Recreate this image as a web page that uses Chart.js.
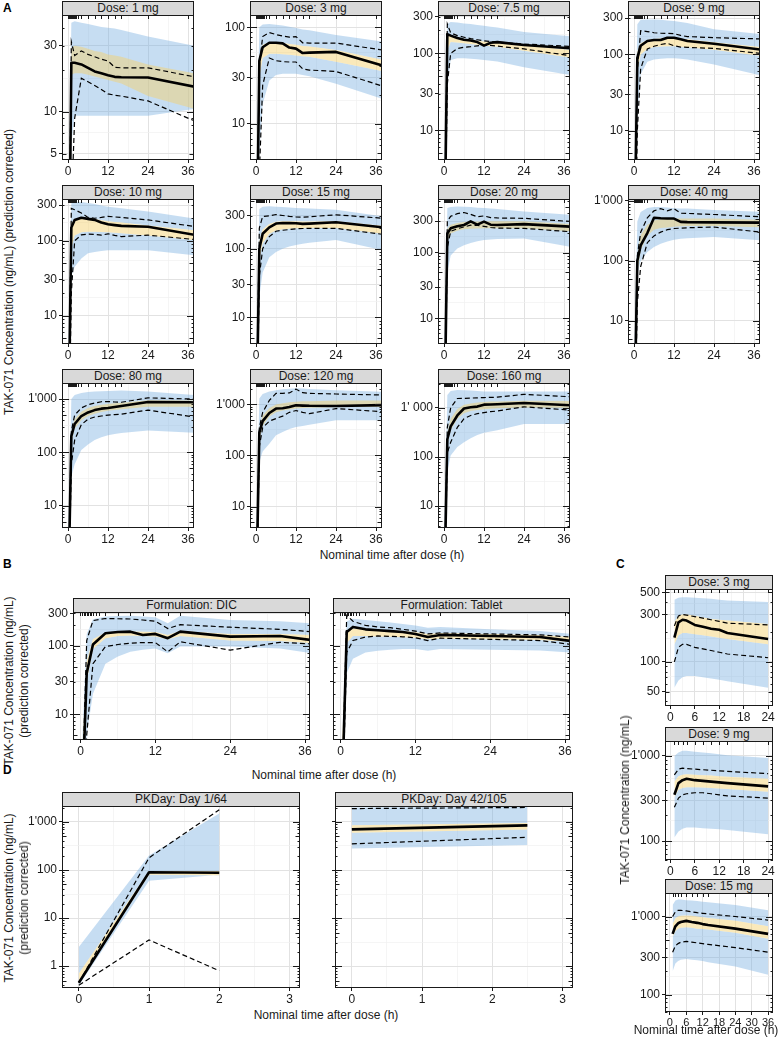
<!DOCTYPE html>
<html>
<head>
<meta charset="utf-8">
<script src="https://cdn.jsdelivr.net/npm/chart.js@4.4.1/dist/chart.umd.min.js"></script>
<style>
  body { margin: 0; background: #fff; font-family: 'Liberation Sans', Arial, sans-serif; }
  #page { position: relative; width: 780px; height: 1037px; overflow: hidden; }
  .strip { position: absolute; background: #d9d9d9; border: 1px solid #1a1a1a; box-sizing: border-box;
           font-size: 12px; text-align: center; color: #1a1a1a; white-space: nowrap; }
  .box { position: absolute; }
  .txt { position: absolute; font-size: 12px; color: #1a1a1a; white-space: nowrap; }
  .tag { position: absolute; font-size: 12px; font-weight: bold; color: #000; }
</style>
</head>
<body>
<div id="page"></div>
<script>
// VPC por dosis / formulación / día. Valores leídos a ojo de la figura.

// ---------- A: por dosis ----------
const timesA = [0, 1, 2, 4, 6, 8, 10, 12, 14, 16, 24, 38];
const doseTitles = ['Dose: 1 mg', 'Dose: 3 mg', 'Dose: 7.5 mg', 'Dose: 9 mg', 'Dose: 10 mg', 'Dose: 15 mg',
  'Dose: 20 mg', 'Dose: 40 mg', 'Dose: 80 mg', 'Dose: 120 mg', 'Dose: 160 mg'];
const doseYRange = [[4.5, 50], [4.2, 134], [4.1, 315], [4.1, 330], [4.2, 361], [4.1, 530], [4.1, 650],
  [4.1, 1070], [3.8, 2000], [3.8, 2630], [3.6, 3200]];
const doseYTicks = [[5, 10, 30], [10, 30, 100], [10, 30, 100, 300], [10, 30, 100, 300], [10, 30, 100, 300],
  [10, 30, 100, 300], [10, 30, 100, 300], [10, 100, 1000], [10, 100, 1000], [10, 100, 1000], [10, 100, 1000]];
const doseThousandSep = ["'", "'", "'", "'", "'", "'", "'", "'", "'", "'", "' "];
const doseOverlap = [true, false, false, false, false, false, true, true, true, true, true];

const doseMedian = [
  [0.1, 22.6, 22.6, 22, 20.8, 19.6, 19, 18.4, 17.9, 17.8, 17.7, 15.2],
  [0.1, 45, 62, 69, 69, 68, 61.6, 60, 54, 54.5, 55.5, 40],
  [0.1, 178, 170, 158, 150, 147, 140, 126, 137, 140, 128, 116],
  [0.1, 90, 130, 150, 155, 155, 166, 166, 158, 150, 138, 116],
  [0.1, 150, 190, 203, 196, 190, 175, 166, 162, 158, 154, 120],
  [0.1, 100, 165, 205, 233, 237, 236, 235, 230, 232, 243, 205],
  [0.1, 195, 233, 250, 262, 298, 265, 295, 265, 262, 270, 247],
  [0.1, 100, 180, 290, 520, 510, 505, 505, 445, 440, 436, 432],
  [0.1, 200, 340, 480, 560, 620, 660, 680, 710, 740, 880, 870],
  [0.1, 280, 470, 680, 830, 845, 890, 965, 950, 940, 935, 970],
  [0.1, 230, 420, 700, 970, 1030, 1060, 1160, 1170, 1180, 1250, 1130],
];
const doseP95 = [
  [0.1, 32, 25.5, 27.5, 26, 25, 24, 23.3, 21, 20.8, 20.8, 17.9],
  [0.1, 40, 80, 88, 84, 81, 79, 80, 69, 68.5, 68.5, 58],
  [0.1, 240, 185, 170, 162, 155, 150, 145, 142, 140, 132, 123],
  [0.1, 60, 205, 200, 193, 190, 189, 188, 178, 172, 166, 160],
  [0.1, 270, 260, 235, 205, 200, 205, 212, 208, 205, 190, 155],
  [0.1, 200, 295, 302, 315, 305, 296, 290, 288, 292, 312, 278],
  [0.1, 300, 355, 390, 405, 380, 350, 360, 340, 335, 331, 296],
  [0.1, 120, 300, 520, 680, 740, 680, 740, 620, 615, 590, 540],
  [0.1, 250, 500, 680, 780, 840, 890, 900, 880, 870, 1050, 1000],
  [0.1, 350, 700, 1200, 1650, 1650, 1680, 2000, 1700, 1650, 1600, 1530],
  [0.1, 400, 1000, 1550, 1560, 1580, 1600, 1620, 1630, 1650, 1880, 1680],
];
const doseP5 = [
  [0.05, 2, 9, 17.5, 16.5, 15.5, 14.5, 13.5, 13.2, 13, 12, 8.6],
  [0.05, 3, 25, 48, 45, 44, 43.6, 43.6, 37, 36, 34.8, 24.5],
  [0.1, 40, 100, 115, 120, 122, 125, 128, 127, 124, 114, 93],
  [0.05, 10, 65, 118, 128, 135, 140, 130, 125, 124, 120, 103],
  [0.05, 20, 100, 120, 123, 122, 119, 124, 118, 114, 119, 104],
  [0.05, 40, 100, 150, 180, 186, 190, 195, 197, 198, 198, 162],
  [0.05, 120, 210, 230, 245, 260, 258, 250, 240, 235, 233, 207],
  [0.05, 20, 80, 200, 260, 300, 330, 345, 350, 355, 365, 300],
  [0.05, 60, 170, 330, 420, 460, 480, 500, 510, 520, 620, 460],
  [0.05, 150, 350, 470, 530, 590, 700, 760, 700, 660, 830, 720],
  [0.05, 120, 200, 400, 600, 700, 760, 800, 840, 860, 1050, 900],
];
const doseBandLo = [
  [0.1, 6, 9.4, 9.4, 9.4, 9.4, 9.4, 9.4, 9.4, 9.4, 9.4, 10.5],
  [0.1, 5, 16, 28, 32, 33, 33, 33, 32, 31, 26, 18],
  [0.1, 40, 82, 86, 86, 85, 84, 82, 80, 78, 66, 52],
  [0.1, 15, 55, 80, 86, 88, 89, 89, 88, 86, 74, 53],
  [0.1, 34, 45, 58, 68, 71, 73, 75, 75, 75, 75, 64],
  [0.1, 20, 45, 75, 90, 100, 108, 113, 118, 122, 134, 95],
  [0.1, 50, 90, 115, 129, 140, 148, 155, 158, 160, 164, 122],
  [0.1, 60, 100, 140, 170, 192, 210, 225, 233, 238, 250, 220],
  [0.1, 35, 60, 110, 140, 170, 192, 210, 220, 230, 257, 233],
  [0.1, 74, 120, 170, 250, 290, 330, 360, 380, 400, 490, 490],
  [0.1, 50, 107, 160, 200, 240, 280, 310, 330, 350, 470, 470],
];
const doseBandHi = [
  [1, 44, 45, 44, 43, 42, 41, 40.5, 40, 39, 35, 30],
  [1.5, 100, 107, 108, 106, 104, 101, 98, 95, 93, 83, 71],
  [1.5, 240, 255, 252, 245, 240, 234, 228, 222, 216, 190, 166],
  [1.5, 249, 285, 289, 288, 285, 280, 275, 268, 260, 215, 185],
  [1.5, 317, 328, 330, 320, 310, 295, 285, 278, 272, 245, 198],
  [1.5, 380, 410, 415, 410, 405, 398, 392, 388, 385, 370, 296],
  [1.5, 473, 490, 500, 495, 490, 480, 473, 465, 460, 420, 373],
  [1.5, 450, 650, 760, 790, 790, 770, 750, 745, 740, 700, 655],
  [1.5, 1000, 1190, 1300, 1350, 1380, 1400, 1420, 1430, 1440, 1380, 1190],
  [1.5, 1300, 1600, 1790, 1900, 1980, 2030, 2080, 2050, 2000, 1900, 1780],
  [1.5, 1820, 2200, 2300, 2280, 2250, 2200, 2140, 2140, 2140, 2140, 2140],
];
const doseMedLo = [
  [0.1, 18.5, 19, 19, 18.5, 18, 17.5, 17, 16.5, 16, 13, 10.5],
  [0.2, 30, 48, 53, 53, 52.5, 52, 51, 50, 49.5, 44, 35],
  [0.2, 110, 140, 138, 135, 132, 129, 126, 124, 122, 108, 88],
  [0.2, 60, 100, 118, 125, 127, 128, 128, 126, 124, 115, 96],
  [0.2, 80, 118, 130, 132, 132, 131, 130, 128, 126, 118, 102],
  [0.2, 70, 120, 165, 185, 192, 196, 198, 199, 200, 200, 165],
  [0.2, 150, 195, 215, 225, 230, 232, 233, 233, 233, 233, 210],
  [0.2, 60, 150, 260, 330, 350, 360, 370, 375, 378, 380, 360],
  [0.2, 150, 280, 400, 480, 530, 570, 600, 620, 640, 720, 720],
  [0.2, 200, 380, 580, 700, 760, 800, 830, 850, 860, 880, 900],
  [0.2, 180, 350, 600, 780, 860, 900, 940, 960, 980, 1020, 1000],
];
const doseMedHi = [
  [1, 29, 30, 29.5, 28.5, 27.5, 27, 26, 25.5, 25, 22, 19],
  [1, 50, 66, 70, 70, 69, 67, 66, 64, 63, 58, 46],
  [1, 175, 172, 162, 155, 150, 146, 142, 140, 138, 128, 110],
  [1, 110, 140, 155, 160, 162, 162, 162, 160, 158, 145, 125],
  [1, 170, 195, 200, 198, 195, 188, 182, 178, 175, 160, 138],
  [1, 130, 190, 230, 248, 252, 252, 252, 250, 250, 252, 215],
  [1, 230, 265, 280, 290, 295, 297, 298, 298, 298, 300, 270],
  [1, 130, 270, 400, 470, 490, 500, 505, 505, 505, 505, 480],
  [1, 250, 420, 580, 680, 740, 780, 810, 830, 850, 950, 940],
  [1, 350, 600, 850, 1000, 1060, 1100, 1130, 1150, 1160, 1200, 1200],
  [1, 320, 600, 950, 1150, 1230, 1280, 1320, 1340, 1350, 1400, 1380],
];
const rugA = [0, 0.25, 0.5, 0.75, 1, 1.25, 1.5, 1.75, 2, 2.5, 3, 4, 6, 8, 10, 12, 14, 16, 24, 36];

// ---------- B: por formulación ----------
const timesB = [0, 1, 2, 4, 6, 8, 10, 12, 14, 16, 24, 32, 37];
const formTitles = ['Formulation: DIC', 'Formulation: Tablet'];
const formMedian = [
  [0.1, 40, 105, 153, 160, 162, 145, 150, 130, 162, 137, 140, 122],
  [0.1, 160, 190, 175, 170, 165, 160, 150, 135, 145, 140, 135, 118],
];
const formP95 = [
  [0.1, 120, 235, 252, 250, 248, 240, 230, 180, 205, 188, 175, 162],
  [0.1, 280, 230, 200, 190, 185, 175, 165, 150, 155, 150, 145, 135],
];
const formP5 = [
  [0.05, 5, 55, 98, 105, 110, 112, 112, 82, 115, 87, 113, 107],
  [0.05, 80, 120, 135, 140, 138, 136, 132, 120, 130, 125, 120, 105],
];
const formBandLo = [
  [0.1, 5, 20, 55, 70, 82, 88, 92, 78, 98, 98, 92, 78],
  [0.1, 40, 65, 80, 85, 88, 90, 90, 85, 90, 88, 86, 80],
];
const formBandHi = [
  [1, 150, 245, 270, 275, 276, 270, 264, 215, 276, 240, 230, 215],
  [1, 230, 250, 240, 230, 220, 210, 200, 185, 190, 175, 165, 150],
];
const formMedLo = [
  [0.2, 30, 90, 130, 140, 142, 140, 138, 125, 140, 120, 118, 110],
  [0.2, 110, 140, 140, 138, 136, 134, 132, 125, 128, 125, 122, 115],
];
const formMedHi = [
  [1, 60, 125, 158, 162, 163, 162, 160, 145, 165, 150, 150, 145],
  [1, 170, 180, 175, 170, 168, 165, 160, 150, 155, 150, 145, 135],
];

// ---------- C: sin corrección ----------
const timesC = [1, 2, 3, 4, 6, 8, 10, 12, 14, 24, 36];
const rawTitles = ['Dose: 3 mg', 'Dose: 9 mg', 'Dose: 15 mg'];
const rawYRange = [[36, 540], [60, 1500], [60, 2000]];
const rawYTicks = [[50, 100, 300, 500], [100, 300, 1000], [100, 300, 1000]];
const rawMedian = [
  [175, 250, 265, 260, 235, 225, 215, 210, 195, 170, null],
  [350, 480, 520, 540, 520, 510, 500, 490, 480, 440, null],
  [600, 750, 820, 850, 880, 850, 830, 800, 780, 700, 600],
];
const rawP95 = [
  [230, 290, 300, 295, 285, 275, 265, 255, 245, 235, null],
  [600, 700, 720, 710, 700, 690, 680, 670, 660, 620, null],
  [1000, 1150, 1200, 1200, 1180, 1150, 1120, 1100, 1080, 1000, 900],
];
const rawP5 = [
  [100, 140, 150, 150, 140, 135, 130, 125, 120, 110, null],
  [250, 320, 350, 360, 370, 370, 360, 350, 340, 320, null],
  [350, 420, 450, 470, 480, 470, 460, 450, 440, 400, 350],
];
const rawBandLo = [
  [55, 65, 70, 72, 72, 70, 68, 66, 64, 55, null],
  [110, 130, 140, 145, 145, 142, 140, 138, 135, 120, null],
  [200, 250, 270, 280, 285, 280, 275, 270, 260, 230, 180],
];
const rawBandHi = [
  [420, 440, 445, 445, 440, 435, 430, 420, 415, 400, null],
  [1000, 1100, 1150, 1150, 1120, 1100, 1080, 1050, 1020, 950, null],
  [1400, 1600, 1650, 1650, 1620, 1600, 1580, 1550, 1520, 1400, 1200],
];
const rawMedLo = [
  [150, 185, 195, 195, 190, 185, 180, 175, 170, 150, null],
  [330, 400, 420, 430, 430, 425, 420, 415, 410, 380, null],
  [550, 650, 700, 720, 730, 720, 700, 690, 680, 620, 520],
];
const rawMedHi = [
  [250, 290, 300, 300, 290, 280, 270, 265, 260, 240, null],
  [500, 580, 600, 610, 600, 595, 590, 580, 570, 540, null],
  [800, 950, 1000, 1020, 1030, 1020, 1000, 980, 960, 880, 750],
];
const rugC = [1, 2, 3, 4, 6, 8, 10, 12, 14, 24, 36];

// ---------- D: por día ----------
const timesD = [[0, 1, 2], [0, 2.5]];
const dayTitles = ['PKDay: Day 1/64', 'PKDay: Day 42/105'];
const dayMedian = [[0.45, 90, 88], [700, 850]];
const dayP95 = [[0.45, 180, 1800], [1900, 2000]];
const dayP5 = [[0.4, 3.5, 0.8], [350, 480]];
const dayBandLo = [[0.4, 60, 80], [280, 330]];
const dayBandHi = [[2.5, 200, 1500], [2000, 2100]];
const dayMedLo = [[0.45, 80, 78], [600, 700]];
const dayMedHi = [[0.7, 95, 95], [850, 950]];

// ---------- dibujo ----------
const AXW = 42, AXH = 19, PADT = 8, PADR = 9, STRIPH = 14;
const FONT = "'Liberation Sans', Arial, sans-serif";
const BLUE = 'rgba(120, 175, 225, 0.42)';
const ORANGE = 'rgba(245, 210, 110, 0.48)';

function fmtTick(v, sep) {
  if (v >= 1000) { const s = String(v); return s.slice(0, -3) + sep + s.slice(-3); }
  return String(v);
}

function geoMinors(ticks, lo, hi) {
  const out = [];
  for (let i = 0; i < ticks.length - 1; i++) out.push(Math.sqrt(ticks[i] * ticks[i + 1]));
  return out.filter(v => v > lo && v < hi);
}

const decorPlugin = {
  id: 'decor',
  afterDatasetsDraw(chart, args, opts) {
    const { ctx, chartArea: a, scales: { x, y } } = chart;
    ctx.save();
    ctx.strokeStyle = '#1a1a1a';
    ctx.lineWidth = 1;
    const seg = (x1, y1, x2, y2) => { ctx.beginPath(); ctx.moveTo(x1, y1); ctx.lineTo(x2, y2); ctx.stroke(); };
    // marcas logarítmicas a ambos lados
    for (let e = Math.floor(Math.log10(y.min)); e <= Math.ceil(Math.log10(y.max)); e++) {
      for (let m = 1; m <= 9; m++) {
        const v = m * Math.pow(10, e);
        if (v < y.min || v > y.max) continue;
        const py = Math.round(y.getPixelForValue(v)) + 0.5;
        const len = m === 1 ? 7 : (m === 5 ? 4.5 : 2.5);
        seg(a.left, py, a.left + len, py);
        seg(a.right - len, py, a.right, py);
      }
    }
    // rug de tiempos nominales
    (opts.rug || []).forEach(t => {
      const px = Math.round(x.getPixelForValue(t)) + 0.5;
      if (px >= a.left && px <= a.right) seg(px, a.top, px, a.top + 4);
    });
    ctx.strokeRect(a.left + 0.5, a.top + 0.5, a.width - 1, a.height - 1);
    ctx.restore();
  }
};

function addEl(cls, text, style) {
  const d = document.createElement('div');
  d.className = cls;
  d.textContent = text;
  Object.assign(d.style, style);
  document.getElementById('page').appendChild(d);
  return d;
}

function hText(text, cx, cy, size) {
  addEl('txt', text, { left: cx + 'px', top: cy + 'px', fontSize: (size || 12) + 'px',
    transform: 'translate(-50%, -50%)' });
}

function vText(text, cx, cy, size) {
  addEl('txt', text, { left: cx + 'px', top: cy + 'px', fontSize: (size || 12) + 'px',
    transform: 'translate(-50%, -50%) rotate(-90deg)' });
}

function makePanel(o) {
  addEl('strip', o.title, { left: o.left + 'px', top: (o.top - STRIPH) + 'px', width: o.w + 'px',
    height: (STRIPH + 1) + 'px', lineHeight: (STRIPH - 1) + 'px' });
  const box = addEl('box', '', { left: (o.left - AXW) + 'px', top: (o.top - PADT) + 'px',
    width: (o.w + AXW + PADR) + 'px', height: (o.h + PADT + AXH) + 'px' });
  const cv = document.createElement('canvas');
  box.appendChild(cv);

  const pts = arr => arr.map((v, i) => ({ x: o.t[i], y: v }));
  const edge = arr => ({ data: pts(arr), borderWidth: 0, pointRadius: 0, fill: false });
  const band = (arr, color) => ({ ...edge(arr), fill: '-1', backgroundColor: color });
  const datasets = [
    { data: pts(o.med), borderColor: '#000', borderWidth: 2.6, pointRadius: 0, fill: false, borderJoinStyle: 'round' },
    { data: pts(o.hi), borderColor: '#000', borderWidth: 1.2, borderDash: [5, 3], pointRadius: 0, fill: false },
    { data: pts(o.lo), borderColor: '#000', borderWidth: 1.2, borderDash: [5, 3], pointRadius: 0, fill: false },
    edge(o.mLo), band(o.mHi, ORANGE),
  ];
  if (o.overlap) {
    datasets.push(edge(o.bLo), band(o.bHi, BLUE));
  } else {
    datasets.push(edge(o.bLo), band(o.mLo, BLUE), edge(o.mHi), band(o.bHi, BLUE));
  }

  const xMajor = new Set(o.xTicks);
  const yMajor = new Set(o.yTicks);
  const xAll = o.xTicks.concat(o.xMinor);
  const yAll = o.yTicks.concat(geoMinors(o.yTicks, o.yMin, o.yMax));
  const tickFont = { family: FONT, size: o.fontSize || 12 };

  new Chart(cv, {
    type: 'line',
    data: { datasets },
    options: {
      animation: false, responsive: true, maintainAspectRatio: false, events: [],
      layout: { padding: { top: PADT, right: PADR, left: 0, bottom: 0 } },
      elements: { line: { tension: 0 } },
      plugins: {
        legend: { display: false }, tooltip: { enabled: false },
        filler: { drawTime: 'beforeDatasetsDraw' },
        decor: { rug: o.rug },
      },
      scales: {
        x: {
          type: 'linear', min: o.xMin, max: o.xMax,
          afterBuildTicks: s => { s.ticks = xAll.map(v => ({ value: v })); },
          afterFit: s => { s.height = AXH; s.paddingLeft = 0; s.paddingRight = 0; },
          ticks: { autoSkip: false, maxRotation: 0, padding: 1, color: '#1a1a1a', font: tickFont,
            callback: v => (xMajor.has(v) ? String(v) : '') },
          grid: {
            color: c => (c.tick && xMajor.has(c.tick.value) ? '#e2e2e2' : '#f0f0f0'),
            lineWidth: c => (c.tick && xMajor.has(c.tick.value) ? 1 : 0.7),
            tickLength: 3,
            tickColor: c => (c.tick && xMajor.has(c.tick.value) ? '#1a1a1a' : 'rgba(0,0,0,0)'),
          },
          border: { display: false },
        },
        y: {
          type: 'logarithmic', min: o.yMin, max: o.yMax,
          afterBuildTicks: s => { s.ticks = yAll.map(v => ({ value: v })); },
          afterFit: s => { s.width = AXW; s.paddingTop = 0; s.paddingBottom = 0; },
          ticks: { autoSkip: false, padding: 2, color: '#1a1a1a', font: { family: FONT, size: 12 },
            callback: v => (o.showY && yMajor.has(v) ? fmtTick(v, o.sep || "'") : '') },
          grid: {
            color: c => (c.tick && yMajor.has(c.tick.value) ? '#e2e2e2' : '#f0f0f0'),
            lineWidth: c => (c.tick && yMajor.has(c.tick.value) ? 1 : 0.7),
            tickLength: 3,
            tickColor: c => (c.tick && yMajor.has(c.tick.value) ? '#1a1a1a' : 'rgba(0,0,0,0)'),
          },
          border: { display: false },
        },
      },
    },
    plugins: [decorPlugin],
  });
}

// A
const colLeft = [62, 250, 438, 628];
const rowTop = [15, 199, 383];
doseTitles.forEach((title, i) => {
  makePanel({
    title, left: colLeft[i % 4], top: rowTop[Math.floor(i / 4)], w: 132, h: 145,
    t: timesA, med: doseMedian[i], hi: doseP95[i], lo: doseP5[i],
    bLo: doseBandLo[i], bHi: doseBandHi[i], mLo: doseMedLo[i], mHi: doseMedHi[i], overlap: doseOverlap[i],
    xMin: -1.8, xMax: 37.8, xTicks: [0, 12, 24, 36], xMinor: [6, 18, 30],
    yMin: doseYRange[i][0], yMax: doseYRange[i][1], yTicks: doseYTicks[i], showY: true, sep: doseThousandSep[i],
    rug: rugA,
  });
});

// B
formTitles.forEach((title, i) => {
  makePanel({
    title, left: [73, 333][i], top: 612, w: 237, h: 128,
    t: timesB, med: formMedian[i], hi: formP95[i], lo: formP5[i],
    bLo: formBandLo[i], bHi: formBandHi[i], mLo: formMedLo[i], mHi: formMedHi[i], overlap: false,
    xMin: -1.2, xMax: 36.8, xTicks: [0, 12, 24, 36], xMinor: [6, 18, 30],
    yMin: 4.2, yMax: 314, yTicks: [10, 30, 100, 300], showY: i === 0,
    rug: rugA,
  });
});

// C
const rawTop = [589, 741, 893];
const rawH = [117, 119, 119];
rawTitles.forEach((title, i) => {
  const wide = i === 2;
  makePanel({
    title, left: 665, top: rawTop[i], w: 108, h: rawH[i],
    t: timesC, med: rawMedian[i], hi: rawP95[i], lo: rawP5[i],
    bLo: rawBandLo[i], bHi: rawBandHi[i], mLo: rawMedLo[i], mHi: rawMedHi[i], overlap: false,
    xMin: wide ? -1.8 : -1.3, xMax: wide ? 37.8 : 25.2,
    xTicks: wide ? [0, 6, 12, 18, 24, 30, 36] : [0, 6, 12, 18, 24], xMinor: wide ? [] : [3, 9, 15, 21],
    fontSize: wide ? 11 : 12,
    yMin: rawYRange[i][0], yMax: rawYRange[i][1], yTicks: rawYTicks[i], showY: true,
    rug: rugC,
  });
});

// D
dayTitles.forEach((title, i) => {
  makePanel({
    title, left: [62, 335][i], top: 806, w: 238, h: 182,
    t: timesD[i], med: dayMedian[i], hi: dayP95[i], lo: dayP5[i],
    bLo: dayBandLo[i], bHi: dayBandHi[i], mLo: dayMedLo[i], mHi: dayMedHi[i], overlap: false,
    xMin: -0.24, xMax: 3.15, xTicks: [0, 1, 2, 3], xMinor: [0.5, 1.5, 2.5],
    yMin: 0.35, yMax: 2150, yTicks: [1, 10, 100, 1000], showY: i === 0,
    rug: [],
  });
});

// títulos y etiquetas
addEl('tag', 'A', { left: '3px', top: '1px' });
addEl('tag', 'B', { left: '3px', top: '557px' });
addEl('tag', 'C', { left: '616px', top: '557px' });
addEl('tag', 'D', { left: '3px', top: '763px' });
vText('TAK-071 Concentration (ng/mL) (prediction corrected)', 9, 272);
hText('Nominal time after dose (h)', 392, 555);
vText('TAK-071 Concentration (ng/mL)', 9, 681);
vText('(prediction corrected)', 24, 681);
hText('Nominal time after dose (h)', 324, 775);
vText('TAK-071 Concentration (ng/mL)', 9, 898);
vText('(prediction corrected)', 24, 898);
hText('Nominal time after dose (h)', 326, 1015);
vText('TAK-071 Concentration (ng/mL)', 625, 800);
hText('Nominal time after dose (h)', 706, 1030);
</script>
</body>
</html>
